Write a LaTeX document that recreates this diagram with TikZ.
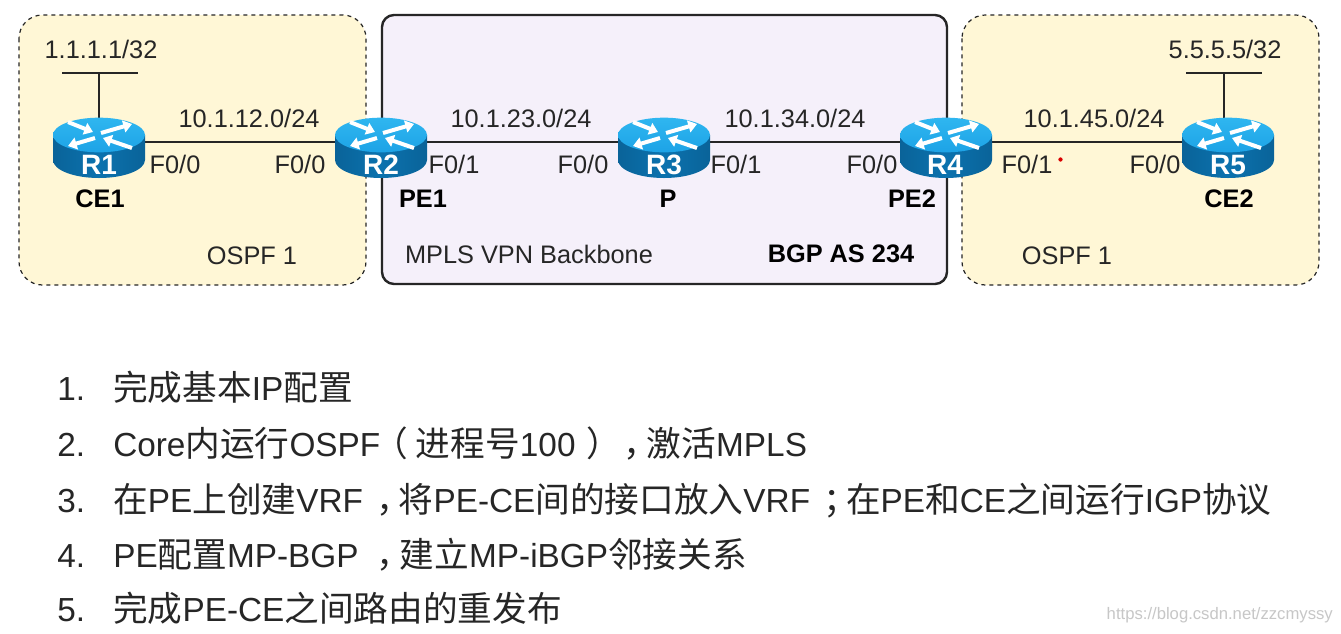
\documentclass[tikz,border=0pt]{standalone}
\usepackage{fontspec}
\setmainfont{Liberation Sans}
\newfontfamily\cjk[Scale=1.04]{Noto Sans CJK SC}
\usetikzlibrary{arrows.meta}
\definecolor{zoneY}{HTML}{FFF7D6}
\definecolor{zoneP}{HTML}{F5F0FA}
\definecolor{rtop}{HTML}{1DA3E6}
\definecolor{rtopl}{HTML}{2FB6F0}
\definecolor{rside}{HTML}{0B72AE}
\definecolor{rsided}{HTML}{0A6399}
\definecolor{ink}{HTML}{262626}
\newcommand{\cjkp}[2]{\hbox to 1em{\cjk\hskip#1em #2\hss}}
\tikzset{
  x=0.75pt,y=-0.75pt,
  zone/.style={draw=#1,rounded corners=17.5pt},
  link/.style={draw=ink,line width=1.6pt},
  txt/.style={font=\fontsize{19}{21}\selectfont,text=ink,inner sep=0pt,anchor=center},
  btxt/.style={font=\fontsize{19}{21}\selectfont\bfseries,text=black,inner sep=0pt,anchor=center},
  rlabel/.style={font=\fontsize{21}{23}\selectfont\bfseries,text=white,inner sep=0pt,anchor=center},
  item/.style={font=\fontsize{25}{28}\selectfont,text=ink,inner sep=0pt,anchor=base west},
  routerbox/.style={inner sep=0pt,minimum width=69pt,minimum height=1pt},
  rarrow/.style={white,line width=3pt,-{Triangle[width=9pt,length=6.5pt]}},
}
\newcommand{\routershape}[1]{%
  \begin{scope}[shift={(#1,0)}]
    \path[left color=rsided,right color=rsided,middle color=rside]
      (-46,135) -- (-46,160) arc[start angle=180,end angle=360,x radius=34.5pt,y radius=13.5pt] -- (46,135) -- cycle;
    \path[top color=rtopl,bottom color=rtop] (0,135) ellipse[x radius=34.5pt,y radius=13pt];
    \draw[rarrow] (-31,122) -- (-6,132);
    \draw[rarrow] (2,133) -- (33,124);
    \draw[rarrow] (-4,138) -- (-31,146);
    \draw[rarrow] (33,148) -- (4,138);
  \end{scope}
}
\begin{document}
\begin{tikzpicture}
\useasboundingbox (0,0) rectangle (1341,633);
\fill[white] (0,0) rectangle (1341,633);
% zones
\path[zone=ink,fill=zoneY,dashed,line width=0.9pt] (19,15) rectangle (366,285);
\path[zone=ink,fill=zoneP,line width=1.8pt,rounded corners=9pt] (382,15) rectangle (947,284);
\path[zone=ink,fill=zoneY,dashed,line width=0.9pt] (962,15) rectangle (1319,285);
% router anchors
\node[routerbox] (R1) at (99,142) {};
\node[routerbox] (R2) at (381,142) {};
\node[routerbox] (R3) at (664,142) {};
\node[routerbox] (R4) at (946,142) {};
\node[routerbox] (R5) at (1228,142) {};
\coordinate (LAN1) at (99,73);
\coordinate (LAN1a) at (62,73);
\coordinate (LAN1b) at (138,73);
\coordinate (LAN5) at (1224,73);
\coordinate (LAN5a) at (1186,73);
\coordinate (LAN5b) at (1262,73);
\coordinate (LAN5c) at (1224,142);
\draw[link] (R1.center) -- (R2.center);
\draw[link] (R2.center) -- (R3.center);
\draw[link] (R3.center) -- (R4.center);
\draw[link] (R4.center) -- (R5.center);
\draw[link] (LAN1a) -- (LAN1b);
\draw[link] (LAN5a) -- (LAN5b);
\draw[link] (LAN1) -- (R1.center);
\draw[link] (LAN5) -- (LAN5c);
\routershape{99}
\routershape{381}
\routershape{664}
\routershape{946}
\routershape{1228}
\node[rlabel] (t1) at (99,165) {R1};
\node[rlabel] (t2) at (381,165) {R2};
\node[rlabel] (t3) at (664,165) {R3};
\node[rlabel] (t4) at (945,165) {R4};
\node[rlabel] (t5) at (1228,165) {R5};
% texts
\node[txt] (n1) at (101,49) {1.1.1.1/32};
\node[txt] (n5) at (1225,49) {5.5.5.5/32};
\node[txt] (s12) at (249,118) {10.1.12.0/24};
\node[txt] (s23) at (521,118) {10.1.23.0/24};
\node[txt] (s34) at (795,118) {10.1.34.0/24};
\node[txt] (s45) at (1094,118) {10.1.45.0/24};
\node[txt] (i1) at (175,164) {F0/0};
\node[txt] (i2) at (300,164) {F0/0};
\node[txt] (i3) at (454,164) {F0/1};
\node[txt] (i4) at (583,164) {F0/0};
\node[txt] (i5) at (736,164) {F0/1};
\node[txt] (i6) at (872,164) {F0/0};
\node[txt] (i7) at (1027,164) {F0/1};
\node[txt] (i8) at (1155,164) {F0/0};
\fill[red!85!black] (1060.5,159.5) circle[radius=1.6pt];
\node[btxt] (c1) at (100,199) {CE1};
\node[btxt] (c2) at (423,199) {PE1};
\node[btxt] (c3) at (668,199) {P};
\node[btxt] (c4) at (912,199) {PE2};
\node[btxt] (c5) at (1229,199) {CE2};
\node[txt] (o1) at (252,256) {OSPF 1};
\node[txt] (o2) at (1067,256) {OSPF 1};
\node[txt] (mp) at (529,254) {MPLS VPN Backbone};
\node[btxt] (as) at (841,254) {BGP AS 234};
% list
\node[item] (a1) at (57,400) {1.};
\node[item] (a2) at (57,456) {2.};
\node[item] (a3) at (57,512) {3.};
\node[item] (a4) at (57,567) {4.};
\node[item] (a5) at (57,621) {5.};
\node[item] (b1) at (113,400) {{\cjk 完成基本}IP{\cjk 配置}};
\node[item] (b2) at (113,456) {Core{\cjk 内运行}OSPF\hskip1.75pt\cjkp{-0.25}{（}{\cjk 进程号}100\hskip1.75pt\cjkp{0.25}{）}\hskip1.75pt\cjkp{0.3}{，}{\cjk 激活}MPLS};
\node[item] (b3) at (113,512) {{\cjk 在}PE{\cjk 上创建}VRF\hskip1.9pt\cjkp{0.3}{，}{\cjk 将}PE-CE{\cjk 间的接口放入}VRF\hskip1.9pt\cjkp{0.3}{；}{\cjk 在}PE{\cjk 和}CE{\cjk 之间运行}IGP{\cjk 协议}};
\node[item] (b4) at (113,567) {PE{\cjk 配置}MP-BGP\hskip6pt\cjkp{0.3}{，}{\cjk 建立}MP-iBGP{\cjk 邻接关系}};
\node[item] (b5) at (113,621) {{\cjk 完成}PE-CE{\cjk 之间路由的重发布}};
\node[font=\fontsize{12.5}{14}\selectfont,text=black!22,inner sep=0pt,anchor=east] (wm) at (1333,615) {https://blog.csdn.net/zzcmyssy};
\end{tikzpicture}
\end{document}
